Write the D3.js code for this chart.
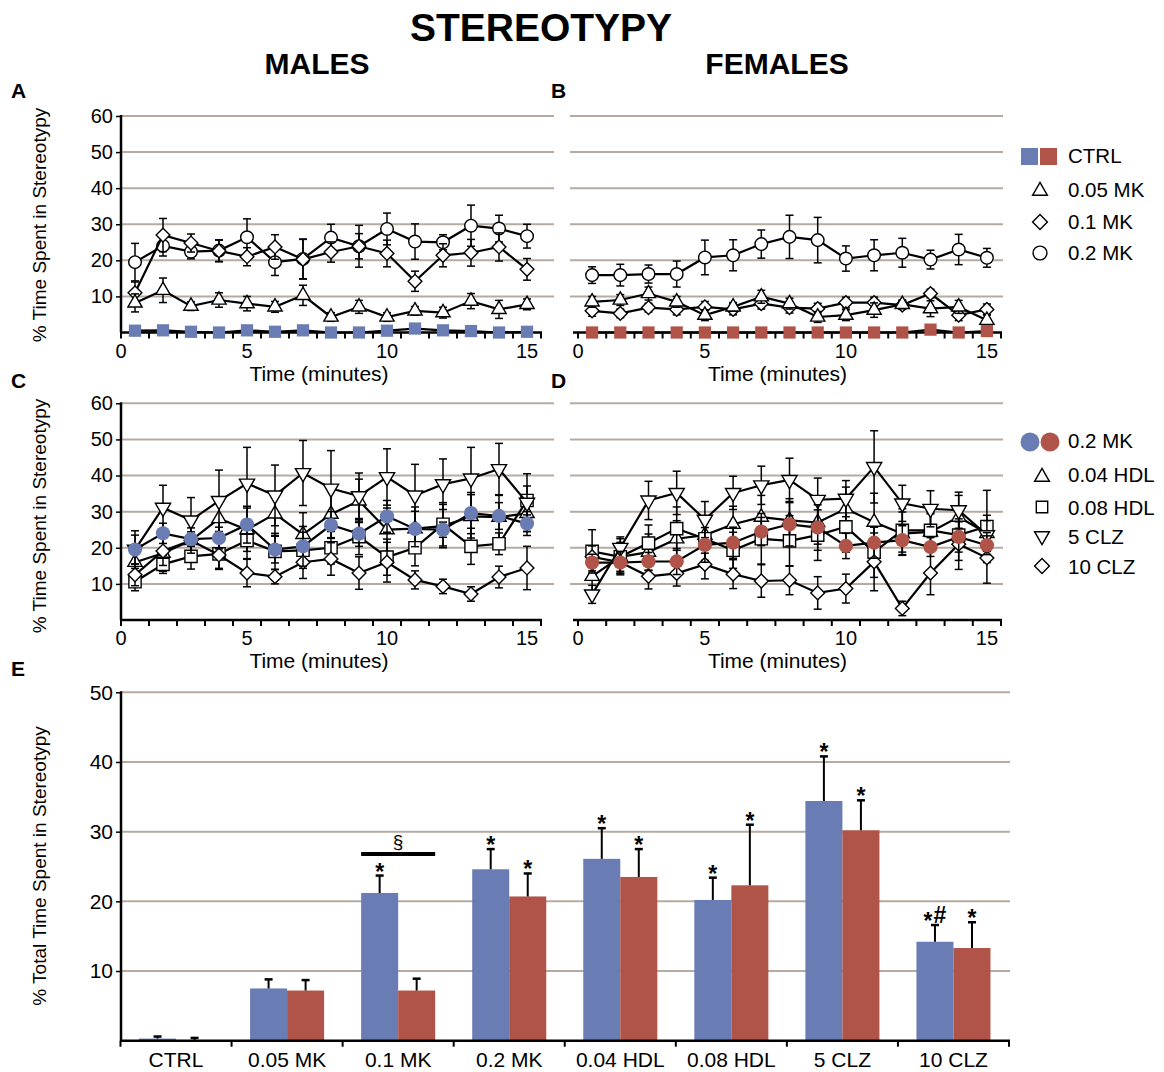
<!DOCTYPE html>
<html>
<head>
<meta charset="utf-8">
<script src="https://cdn.jsdelivr.net/npm/d3@7"></script>
<style>
  body { margin: 0; background: #fff; }
  svg text { font-family: "Liberation Sans", Arial, Helvetica, sans-serif; fill: #000; }
</style>
</head>
<body>
<svg id="fig" width="1164" height="1072"></svg>
<script>
// ---- time axis: one-minute bins ----
const minutes = [1, 2, 3, 4, 5, 6, 7, 8, 9, 10, 11, 12, 13, 14, 15];
const minuteLabels = [0, 5, 10, 15];
const timeYTicks = [10, 20, 30, 40, 50, 60];

// ---- males: % time in stereotypy per minute (mean, SEM) ----
const ctrlM      = [0.5, 0.6, 0.2, 0.0, 0.6, 0.2, 0.6, 0.0, 0.0, 0.5, 1.1, 0.6, 0.4, 0.0, 0.2];
const ctrlMErr   = [0.3, 0.3, 0.3, 0.3, 0.3, 0.3, 0.3, 0.3, 0.3, 0.3, 0.3, 0.3, 0.3, 0.3, 0.3];
const mk005M     = [8.2, 11.7, 7.3, 9.0, 8.0, 7.1, 10.3, 4.3, 7.1, 4.3, 6.0, 5.5, 8.7, 6.4, 7.8];
const mk005MErr  = [2.5, 3.4, 1.2, 2.0, 2.0, 1.5, 2.8, 1.2, 1.8, 1.2, 1.2, 1.5, 2.1, 2.5, 1.5];
const mk01M      = [11.0, 27.0, 24.8, 22.6, 21.0, 23.7, 20.3, 22.3, 23.9, 21.9, 14.2, 21.4, 22.1, 23.7, 17.5];
const mk01MErr   = [3.0, 4.6, 2.5, 3.0, 2.5, 3.4, 5.5, 2.8, 5.8, 3.7, 2.8, 3.2, 3.7, 3.9, 3.0];
const mk02M      = [19.5, 24.0, 22.4, 22.7, 26.4, 19.5, 20.4, 26.3, 23.9, 28.7, 25.2, 25.0, 29.6, 28.8, 26.7];
const mk02MErr   = [5.2, 2.8, 2.0, 3.0, 5.1, 3.7, 5.5, 3.7, 3.5, 4.4, 4.9, 2.1, 5.7, 3.7, 3.3];
const hdl004M    = [16.0, 18.5, 22.0, 28.1, 25.0, 29.4, 23.7, 29.3, 33.0, 25.0, 25.3, 26.0, 28.7, 28.5, 29.5];
const hdl004MErr = [4.0, 5.0, 5.0, 5.5, 6.0, 6.0, 6.0, 6.5, 6.0, 6.0, 6.0, 6.0, 6.0, 6.0, 5.0];
const hdl008M    = [10.6, 15.4, 17.6, 18.3, 22.0, 19.0, 19.3, 20.0, 23.1, 17.4, 20.0, 26.5, 20.4, 21.1, 33.1];
const hdl008MErr = [2.5, 2.5, 3.5, 4.0, 5.0, 5.0, 5.0, 4.5, 5.0, 5.0, 5.0, 6.0, 5.0, 3.0, 4.0];
const clz5M      = [19.5, 31.1, 27.6, 33.0, 37.8, 34.5, 40.7, 36.4, 34.3, 39.6, 34.5, 37.6, 39.2, 41.8, 32.5];
const clz5MErr   = [4.0, 6.2, 6.3, 8.5, 10.0, 8.4, 9.0, 10.5, 6.4, 7.8, 8.6, 7.0, 8.6, 7.1, 8.0];
const clz10M     = [12.5, 19.1, 22.0, 18.0, 13.0, 12.0, 16.0, 16.9, 13.0, 16.0, 11.1, 9.3, 7.2, 11.9, 14.4];
const clz10MErr  = [3.0, 4.0, 3.5, 4.0, 3.8, 2.0, 4.5, 4.5, 4.5, 5.5, 2.5, 2.0, 2.0, 3.0, 6.0];

// ---- females ----
const ctrlF      = [0.0, 0.0, 0.0, 0.0, 0.0, 0.0, 0.0, 0.0, 0.0, 0.0, 0.0, 0.0, 0.8, 0.0, 0.4];
const ctrlFErr   = [0.3, 0.3, 0.3, 0.3, 0.3, 0.3, 0.3, 0.3, 0.3, 0.3, 0.3, 0.3, 0.3, 0.3, 0.3];
const mk005F     = [8.5, 9.0, 10.8, 8.5, 4.8, 7.1, 9.9, 8.0, 4.3, 4.8, 6.2, 7.8, 6.6, 7.1, 3.4];
const mk005FErr  = [1.5, 1.5, 1.8, 1.5, 1.5, 1.2, 1.8, 1.5, 1.5, 1.5, 2.0, 1.2, 2.2, 1.8, 1.5];
const mk01F      = [6.0, 5.3, 6.9, 6.4, 7.1, 6.4, 8.0, 6.9, 6.6, 8.3, 8.3, 7.6, 10.8, 4.8, 6.4];
const mk01FErr   = [1.5, 1.2, 1.2, 1.5, 1.5, 1.5, 1.5, 1.5, 1.5, 1.5, 1.5, 1.2, 1.2, 1.5, 1.5];
const mk02F      = [15.9, 15.9, 16.2, 16.2, 20.8, 21.4, 24.5, 26.5, 25.6, 20.5, 21.4, 22.1, 20.2, 23.0, 20.7];
const mk02FErr   = [2.3, 3.0, 2.5, 3.6, 4.8, 4.3, 3.9, 6.0, 6.3, 3.5, 4.3, 4.0, 2.6, 4.2, 2.6];
const hdl004F    = [12.1, 17.5, 18.8, 22.5, 23.5, 26.5, 28.5, 27.6, 27.0, 30.8, 27.1, 23.9, 24.4, 28.5, 24.0];
const hdl004FErr = [4.0, 5.0, 5.0, 5.0, 5.0, 5.0, 6.0, 6.0, 6.0, 6.0, 8.0, 6.0, 5.0, 6.0, 5.0];
const hdl008F    = [19.0, 17.5, 21.3, 25.3, 22.5, 19.3, 22.5, 21.9, 23.5, 25.8, 18.8, 24.8, 24.8, 23.5, 25.9];
const hdl008FErr = [6.0, 4.0, 5.0, 6.0, 6.0, 5.0, 7.0, 7.0, 7.0, 7.0, 7.0, 6.0, 5.0, 7.0, 10.0];
const clz5F      = [7.1, 20.0, 33.1, 35.2, 27.8, 35.2, 37.3, 38.8, 33.3, 33.6, 42.4, 32.3, 30.8, 30.4, 23.5];
const clz5FErr   = [2.5, 3.0, 5.3, 6.0, 5.0, 4.6, 5.3, 6.0, 6.0, 5.0, 10.0, 5.0, 5.0, 5.0, 4.0];
const clz10F     = [17.5, 16.0, 12.1, 12.9, 15.4, 12.7, 10.8, 11.0, 7.5, 8.7, 16.1, 3.2, 13.0, 21.0, 17.2];
const clz10FErr  = [3.0, 3.0, 3.5, 3.5, 4.0, 4.0, 4.5, 4.0, 4.5, 4.0, 8.0, 2.0, 6.0, 7.0, 7.0];

// ---- totals over the session (panel E) ----
const groups    = ["CTRL", "0.05 MK", "0.1 MK", "0.2 MK", "0.04 HDL", "0.08 HDL", "5 CLZ", "10 CLZ"];
const totalM    = [0.3, 7.5, 21.2, 24.6, 26.1, 20.2, 34.4, 14.2];
const totalMErr = [0.3, 1.3, 2.5, 2.9, 4.4, 3.2, 6.4, 2.4];
const totalF    = [0.1, 7.2, 7.2, 20.7, 23.5, 22.3, 30.2, 13.3];
const totalFErr = [0.3, 1.5, 1.7, 3.3, 4.0, 8.7, 4.3, 3.7];
const sigM      = ["", "", "*", "*", "*", "*", "*", "*#"];
const sigF      = ["", "", "", "*", "*", "*", "*", "*"];
const totalYTicks = [10, 20, 30, 40, 50];

const BLUE = "#6a7cb4", RED = "#b05449", GRID = "#b6aba1";
const svg = d3.select("#fig");

// marker path for a given shape
function markerPath(shape, size) {
  if (shape === "circle") return d3.symbol(d3.symbolCircle, size)();
  if (shape === "square" || shape === "diamond") return d3.symbol(d3.symbolSquare, size)();
  return d3.symbol(d3.symbolTriangle, size)();
}
function markerRot(shape) {
  if (shape === "diamond") return 45;
  if (shape === "down") return 180;
  return 0;
}
const sizeOf = { circle: 125, square: 150, diamond: 95, triangle: 88, down: 100, dot: 160 };

function drawTimePanel(opt) {
  const x = d3.scaleBand().domain(minutes).range(opt.xr);
  const cx = m => x(m) + x.bandwidth() / 2;
  const y = d3.scaleLinear().domain([0, 60]).range(opt.yr);
  const g = svg.append("g");

  g.selectAll("line.grid").data(timeYTicks).join("line")
    .attr("class", "grid")
    .attr("x1", opt.gx[0]).attr("x2", opt.gx[1])
    .attr("y1", d => y(d)).attr("y2", d => y(d))
    .attr("stroke", GRID).attr("stroke-width", 2);

  if (opt.yAxis) {
    const ya = d3.axisLeft(y).tickValues(timeYTicks).tickSize(5).tickPadding(3);
    const yg = g.append("g").attr("transform", `translate(${opt.xr[0]},0)`).call(ya);
    yg.select(".domain").remove();
    yg.selectAll(".tick line").attr("stroke", "#000").attr("stroke-width", 1.5);
    yg.attr("font-size", 20).attr("font-family", null);
    g.append("line").attr("x1", opt.xr[0]).attr("x2", opt.xr[0])
      .attr("y1", y(60) - 1).attr("y2", y(0))
      .attr("stroke", "#000").attr("stroke-width", 2.5);
  }

  // x axis: ticks on bin edges, labels under bins 5/10/15 and at the origin
  const y0 = y(0);
  const edges = minutes.map(m => x(m)).concat([opt.xr[1]]);
  g.append("line").attr("x1", opt.xr[0] - (opt.yAxis ? 1 : 5)).attr("x2", opt.xr[1] + 1)
    .attr("y1", y0).attr("y2", y0)
    .attr("stroke", "#000").attr("stroke-width", 2.5);
  g.selectAll("line.xt").data(edges).join("line")
    .attr("x1", d => d).attr("x2", d => d).attr("y1", y0).attr("y2", y0 + 6)
    .attr("stroke", "#000").attr("stroke-width", 2);
  g.selectAll("text.xl").data(minuteLabels).join("text")
    .attr("x", d => d === 0 ? opt.xr[0] : cx(d)).attr("y", y0 + 25)
    .attr("text-anchor", "middle").attr("font-size", 20).text(d => d);

  g.append("text").attr("x", (opt.xr[0] + opt.xr[1]) / 2 - 12).attr("y", y0 + 48)
    .attr("text-anchor", "middle").attr("font-size", 21).text("Time (minutes)");

  const line = d3.line().x(d => cx(d.t)).y(d => y(d.v));
  opt.series.forEach(s => {
    const pts = minutes.map((t, i) => ({ t, v: s.vals[i], e: s.err[i] }));
    const sg = g.append("g");
    // error bars
    const eb = sg.selectAll("g.eb").data(pts).join("g").attr("class", "eb");
    eb.append("line").attr("x1", d => cx(d.t)).attr("x2", d => cx(d.t))
      .attr("y1", d => y(Math.max(0, d.v - d.e))).attr("y2", d => y(d.v + d.e))
      .attr("stroke", "#000").attr("stroke-width", 1.5);
    eb.append("line").attr("x1", d => cx(d.t) - 4).attr("x2", d => cx(d.t) + 4)
      .attr("y1", d => y(d.v + d.e)).attr("y2", d => y(d.v + d.e))
      .attr("stroke", "#000").attr("stroke-width", 1.5);
    eb.filter(d => d.v - d.e > 0).append("line").attr("x1", d => cx(d.t) - 4).attr("x2", d => cx(d.t) + 4)
      .attr("y1", d => y(d.v - d.e)).attr("y2", d => y(d.v - d.e))
      .attr("stroke", "#000").attr("stroke-width", 1.5);
    // connecting line
    sg.append("path").datum(pts).attr("d", line)
      .attr("fill", "none").attr("stroke", "#000").attr("stroke-width", 2.2);
    // markers
    sg.selectAll("path.mk").data(pts).join("path").attr("class", "mk")
      .attr("d", markerPath(s.shape, sizeOf[s.size || s.shape]))
      .attr("transform", d => `translate(${cx(d.t)},${y(d.v)}) rotate(${markerRot(s.shape)})`)
      .attr("fill", s.fill || "#fff")
      .attr("stroke", s.fill ? "none" : "#000").attr("stroke-width", 1.4);
  });
}

// ---- A: males, MK-801 ----
drawTimePanel({
  xr: [121, 541], yr: [332.5, 116], gx: [121, 554], yAxis: true,
  series: [
    { vals: mk02M, err: mk02MErr, shape: "circle" },
    { vals: mk01M, err: mk01MErr, shape: "diamond" },
    { vals: mk005M, err: mk005MErr, shape: "triangle" },
    { vals: ctrlM, err: ctrlMErr, shape: "square", fill: BLUE }
  ]
});
// ---- B: females, MK-801 ----
drawTimePanel({
  xr: [578, 1001], yr: [332.5, 116], gx: [570, 1003], yAxis: false,
  series: [
    { vals: mk02F, err: mk02FErr, shape: "circle" },
    { vals: mk01F, err: mk01FErr, shape: "diamond" },
    { vals: mk005F, err: mk005FErr, shape: "triangle" },
    { vals: ctrlF, err: ctrlFErr, shape: "square", fill: RED }
  ]
});
// ---- C: males, antipsychotics vs 0.2 MK ----
drawTimePanel({
  xr: [121, 541], yr: [620, 403.3], gx: [121, 554], yAxis: true,
  series: [
    { vals: hdl004M, err: hdl004MErr, shape: "triangle" },
    { vals: hdl008M, err: hdl008MErr, shape: "square" },
    { vals: clz5M, err: clz5MErr, shape: "down" },
    { vals: clz10M, err: clz10MErr, shape: "diamond" },
    { vals: mk02M, err: mk02MErr, shape: "circle", size: "dot", fill: BLUE }
  ]
});
// ---- D: females ----
drawTimePanel({
  xr: [578, 1001], yr: [620, 403.3], gx: [570, 1003], yAxis: false,
  series: [
    { vals: hdl004F, err: hdl004FErr, shape: "triangle" },
    { vals: hdl008F, err: hdl008FErr, shape: "square" },
    { vals: clz5F, err: clz5FErr, shape: "down" },
    { vals: clz10F, err: clz10FErr, shape: "diamond" },
    { vals: mk02F, err: mk02FErr, shape: "circle", size: "dot", fill: RED }
  ]
});

// ---- E: total time, grouped bars ----
(function () {
  const x0 = d3.scaleBand().domain(groups).range([120.5, 1009]);
  const x1 = d3.scaleBand().domain(["M", "F"]).range([0, x0.bandwidth()]).paddingOuter(0.5);
  const y = d3.scaleLinear().domain([0, 50]).range([1040.7, 692.3]);
  const g = svg.append("g");

  g.selectAll("line.grid").data(totalYTicks).join("line")
    .attr("x1", 121).attr("x2", 1010)
    .attr("y1", d => y(d)).attr("y2", d => y(d))
    .attr("stroke", GRID).attr("stroke-width", 2);

  const ya = d3.axisLeft(y).tickValues(totalYTicks).tickSize(5).tickPadding(3);
  const yg = g.append("g").attr("transform", "translate(121,0)").call(ya);
  yg.select(".domain").remove();
  yg.selectAll(".tick line").attr("stroke", "#000").attr("stroke-width", 1.5);
  yg.attr("font-size", 21).attr("font-family", null);

  const rows = groups.map((grp, i) => [
    { grp, k: "M", v: totalM[i], e: totalMErr[i], sig: sigM[i], c: BLUE },
    { grp, k: "F", v: totalF[i], e: totalFErr[i], sig: sigF[i], c: RED }
  ]).flat();

  const bx = d => x0(d.grp) + x1(d.k);
  const bw = x1.bandwidth();
  g.selectAll("rect.bar").data(rows).join("rect")
    .attr("x", bx).attr("width", bw)
    .attr("y", d => y(d.v)).attr("height", d => y(0) - y(d.v))
    .attr("fill", d => d.c);

  // upper error bars
  g.selectAll("line.eb").data(rows).join("line")
    .attr("x1", d => bx(d) + bw / 2).attr("x2", d => bx(d) + bw / 2)
    .attr("y1", d => y(d.v)).attr("y2", d => y(d.v + d.e))
    .attr("stroke", "#000").attr("stroke-width", 2);
  g.selectAll("line.cap").data(rows).join("line")
    .attr("x1", d => bx(d) + bw / 2 - 4).attr("x2", d => bx(d) + bw / 2 + 4)
    .attr("y1", d => y(d.v + d.e)).attr("y2", d => y(d.v + d.e))
    .attr("stroke", "#000").attr("stroke-width", 2.5);

  // significance marks
  const st = g.selectAll("text.sig").data(rows.filter(d => d.sig)).join("text")
    .attr("x", d => bx(d) + bw / 2).attr("y", d => y(d.v + d.e) + 4)
    .attr("text-anchor", "middle").attr("font-size", 23).attr("font-weight", "bold");
  st.each(function (d) {
    const t = d3.select(this);
    [...d.sig].forEach(ch => {
      const ts = t.append("tspan").text(ch);
      if (ch === "#") ts.attr("dy", -6).attr("dx", 1).attr("font-size", 23);
    });
  });

  // 0.1 MK male vs female comparison
  const cmp = groups[2];
  const cmpY = y(26.8);
  g.append("line").attr("x1", x0(cmp) + x1("M")).attr("x2", x0(cmp) + x1("F") + bw)
    .attr("y1", cmpY).attr("y2", cmpY).attr("stroke", "#000").attr("stroke-width", 4);
  g.append("text").attr("x", x0(cmp) + x0.bandwidth() / 2).attr("y", cmpY - 6)
    .attr("text-anchor", "middle").attr("font-size", 19).text("§");

  // x axis
  g.append("line").attr("x1", 120).attr("x2", 1010).attr("y1", y(0)).attr("y2", y(0))
    .attr("stroke", "#000").attr("stroke-width", 2.5);
  const bounds = groups.map(d => x0(d)).concat([x0.range()[1]]);
  g.selectAll("line.xt").data(bounds).join("line")
    .attr("x1", d => d).attr("x2", d => d).attr("y1", y(0)).attr("y2", y(0) + 6)
    .attr("stroke", "#000").attr("stroke-width", 2);
  const xa = d3.axisBottom(x0).tickSize(0).tickPadding(11);
  const xg = g.append("g").attr("transform", `translate(0,${y(0)})`).call(xa);
  xg.select(".domain").remove();
  xg.attr("font-size", 21).attr("font-family", null);
  g.append("line").attr("x1", 121).attr("x2", 121).attr("y1", y(50) - 1).attr("y2", y(0))
    .attr("stroke", "#000").attr("stroke-width", 2.5);
})();

// ---- legends ----
function legendText(x, y, s) {
  svg.append("text").attr("x", x).attr("y", y).attr("dy", "0.36em")
    .attr("font-size", 20.5).text(s);
}
function legendMarker(x, y, shape, size) {
  svg.append("path").attr("d", markerPath(shape, size))
    .attr("transform", `translate(${x},${y}) rotate(${markerRot(shape)})`)
    .attr("fill", "#fff").attr("stroke", "#000").attr("stroke-width", 1.4);
}
svg.append("rect").attr("x", 1021).attr("y", 148).attr("width", 17).attr("height", 17).attr("fill", BLUE);
svg.append("rect").attr("x", 1040).attr("y", 148).attr("width", 17).attr("height", 17).attr("fill", RED);
legendText(1068, 156, "CTRL");
legendMarker(1040, 191, "triangle", 95); legendText(1068, 190, "0.05 MK");
legendMarker(1040, 222, "diamond", 110); legendText(1068, 222, "0.1 MK");
legendMarker(1040, 253, "circle", 150); legendText(1068, 253, "0.2 MK");

svg.append("circle").attr("cx", 1030).attr("cy", 442).attr("r", 9.5).attr("fill", BLUE);
svg.append("circle").attr("cx", 1050).attr("cy", 442).attr("r", 9.5).attr("fill", RED);
legendText(1068, 441, "0.2 MK");
legendMarker(1042, 477, "triangle", 95); legendText(1068, 475, "0.04 HDL");
legendMarker(1042, 507, "square", 130); legendText(1068, 508, "0.08 HDL");
legendMarker(1042, 536, "down", 95); legendText(1068, 537, "5 CLZ");
legendMarker(1042, 566, "diamond", 110); legendText(1068, 567, "10 CLZ");

// ---- titles and panel letters ----
svg.append("text").attr("x", 541).attr("y", 41).attr("text-anchor", "middle")
  .attr("font-size", 39).attr("font-weight", "bold").text("STEREOTYPY");
svg.append("text").attr("x", 317).attr("y", 74).attr("text-anchor", "middle")
  .attr("font-size", 30).attr("font-weight", "bold").text("MALES");
svg.append("text").attr("x", 777).attr("y", 74).attr("text-anchor", "middle")
  .attr("font-size", 30).attr("font-weight", "bold").text("FEMALES");
[["A", 11, 98], ["B", 551, 98], ["C", 11, 388], ["D", 551, 388], ["E", 11, 676]].forEach(([s, x, y]) =>
  svg.append("text").attr("x", x).attr("y", y).attr("font-size", 21).attr("font-weight", "bold").text(s));

function yLabel(cx, cy, s) {
  svg.append("text").attr("transform", `translate(${cx},${cy}) rotate(-90)`)
    .attr("text-anchor", "middle").attr("font-size", 19).text(s);
}
yLabel(46, 225, "% Time Spent in Stereotypy");
yLabel(46, 516, "% Time Spent in Stereotypy");
yLabel(46, 866, "% Total Time Spent in Stereotypy");
</script>
</body>
</html>
